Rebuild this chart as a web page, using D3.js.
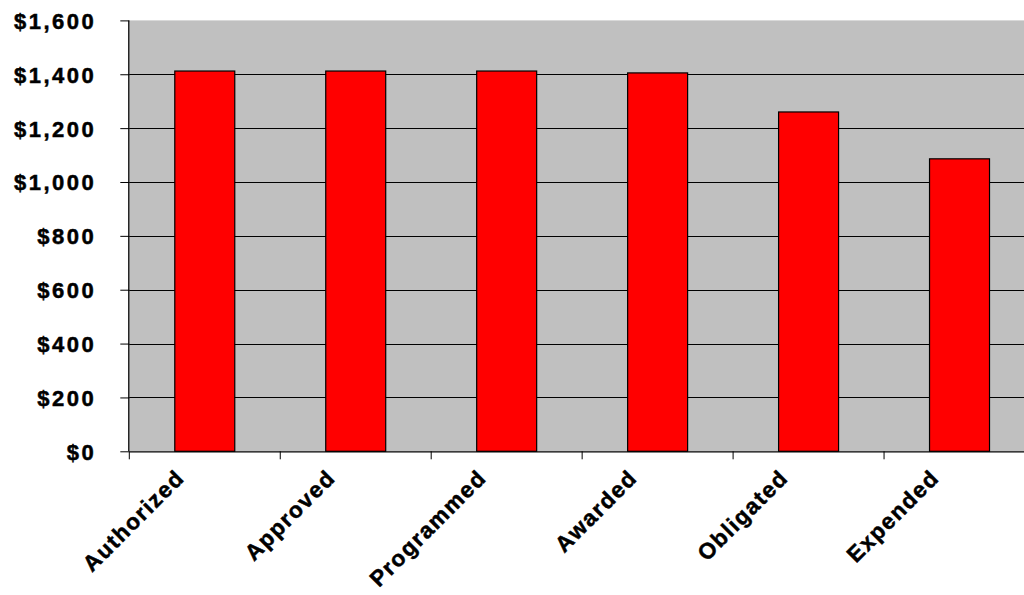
<!DOCTYPE html>
<html>
<head>
<meta charset="utf-8">
<script src="https://cdn.jsdelivr.net/npm/d3@7"></script>
<style>
  html, body { margin: 0; padding: 0; background: #fff; overflow: hidden; }
  svg { display: block; }
  text { font-family: "Liberation Sans", Arial, sans-serif; font-weight: bold; fill: #000; }
</style>
</head>
<body>
<svg id="chart" width="1024" height="595"></svg>
<script>
const categories = ["Authorized", "Approved", "Programmed", "Awarded", "Obligated", "Expended"];
const values = [1412, 1412, 1412, 1405, 1260, 1086];
const yTicks = [0, 200, 400, 600, 800, 1000, 1200, 1400, 1600];

const svg = d3.select("#chart");
const pLeft = 129.3, pRight = 1035, pTop = 20.4, pBottom = 451.3;

const x = d3.scaleBand().domain(categories).range([pLeft, pRight]).paddingInner(91/151).paddingOuter(45.5/151);
const y = d3.scaleLinear().domain([0, 1600]).range([pBottom, pTop]);

// plot background
svg.append("rect").attr("x", pLeft).attr("y", pTop).attr("width", pRight - pLeft).attr("height", pBottom - pTop).attr("fill", "#C0C0C0");

// gridlines
svg.append("g").selectAll("line").data(yTicks.filter(d => d > 0 && d < 1600)).join("line")
  .attr("x1", pLeft).attr("x2", pRight)
  .attr("y1", d => Math.round(y(d)) + 0.5).attr("y2", d => Math.round(y(d)) + 0.5)
  .attr("stroke", "#000").attr("stroke-width", 1);

// bars
svg.append("g").selectAll("rect").data(categories).join("rect")
  .attr("x", d => x(d))
  .attr("width", x.bandwidth())
  .attr("y", (d, i) => y(values[i]))
  .attr("height", (d, i) => y(0) - y(values[i]))
  .attr("fill", "#FF0000").attr("stroke", "#000").attr("stroke-width", 1.2);

// y axis
const yAxis = d3.axisLeft(y).tickValues(yTicks).tickSize(9).tickPadding(24)
  .tickFormat(d => "$" + d3.format(",")(d));
const ya = svg.append("g").attr("transform", `translate(${pLeft},0)`).call(yAxis);
ya.select(".domain").attr("d", `M-0.5,${pTop}V${pBottom}`).attr("stroke", "#000").attr("stroke-width", 1.3);
ya.selectAll(".tick line").attr("stroke", "#000");
ya.selectAll(".tick text").attr("font-size", 22).attr("letter-spacing", 2.5)
  .attr("font-family", "'Liberation Sans', Arial, sans-serif").attr("font-weight", "bold").attr("fill", "#000")
  .attr("stroke", "#000").attr("stroke-width", 0.5)
  .attr("dy", "0.36em");

// x axis
const xBoundary = d3.scaleLinear().domain([0, categories.length]).range([pLeft, pRight]);
const xa = svg.append("g").attr("transform", `translate(0,${pBottom})`);
xa.append("line").attr("x1", pLeft).attr("x2", pRight).attr("y1", 0.5).attr("y2", 0.5).attr("stroke", "#000").attr("stroke-width", 1.3);
xa.selectAll("line.tk").data(d3.range(categories.length + 1)).join("line").attr("class", "tk")
  .attr("x1", d => xBoundary(d)).attr("x2", d => xBoundary(d)).attr("y1", 0).attr("y2", 8)
  .attr("stroke", "#000");
xa.selectAll("text.lbl").data(categories).join("text").attr("class", "lbl")
  .attr("transform", d => `translate(${x(d) + x.bandwidth() / 2 - 19},${28}) rotate(-45)`)
  .attr("text-anchor", "end")
  .attr("font-size", 22.5).attr("letter-spacing", 1.5)
  .attr("stroke", "#000").attr("stroke-width", 0.5)
  .text(d => d);
</script>
</body>
</html>
